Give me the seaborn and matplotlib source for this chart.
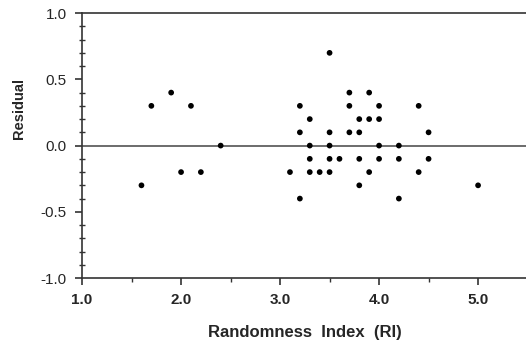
import matplotlib
matplotlib.use("Agg")
import matplotlib.pyplot as plt
import seaborn as sns
from matplotlib.ticker import MultipleLocator

# Randomness index vs. residual
ri = [1.6, 1.7, 1.9, 2.0, 2.1, 2.2, 2.4,
      3.1, 3.2, 3.2, 3.2, 3.3, 3.3, 3.3, 3.3, 3.4,
      3.5, 3.5, 3.5, 3.5, 3.5, 3.6,
      3.7, 3.7, 3.7, 3.8, 3.8, 3.8, 3.8,
      3.9, 3.9, 3.9, 4.0, 4.0, 4.0, 4.0,
      4.2, 4.2, 4.2, 4.4, 4.4, 4.5, 4.5, 5.0]
residual = [-0.3, 0.3, 0.4, -0.2, 0.3, -0.2, 0.0,
            -0.2, 0.3, 0.1, -0.4, 0.2, 0.0, -0.1, -0.2, -0.2,
            0.7, 0.1, 0.0, -0.1, -0.2, -0.1,
            0.4, 0.3, 0.1, 0.2, 0.1, -0.1, -0.3,
            0.4, 0.2, -0.2, 0.3, 0.2, 0.0, -0.1,
            0.0, -0.1, -0.4, 0.3, -0.2, 0.1, -0.1, -0.3]

xticks = [1.0, 2.0, 3.0, 4.0, 5.0]
yticks = [-1.0, -0.5, 0.0, 0.5, 1.0]

sns.set_style("ticks")
plt.rcParams['font.family'] = ['Liberation Sans', 'DejaVu Sans']

fig = plt.figure(figsize=(5.26, 3.45), dpi=100)
ax = fig.add_axes([0.156, 0.194, 0.847, 0.768])

sns.scatterplot(x=ri, y=residual, ax=ax, color="black", s=17,
                edgecolor="none", zorder=3)
ax.axhline(0, color="#444444", lw=1.1, zorder=2)

ax.set_xlim(1.0, 5.5)
ax.set_ylim(-1.0, 1.0)
ax.set_xticks(xticks)
ax.set_xticklabels([f"{v:.1f}" for v in xticks], fontweight="bold")
ax.set_yticks(yticks)
ax.set_yticklabels([f"{v:.1f}" for v in yticks])
ax.xaxis.set_minor_locator(MultipleLocator(0.5))
ax.yaxis.set_minor_locator(MultipleLocator(0.1))
ax.tick_params(axis="x", which="major", length=5, width=1.2,
               labelsize=11, color="#333333", pad=6)
ax.tick_params(axis="y", which="major", length=5, width=1.2,
               labelsize=11, color="#333333", pad=6)
ax.tick_params(axis="y", which="minor", direction="inout", length=5,
               width=1, color="#333333")
ax.tick_params(axis="x", which="minor", length=3, width=1, color="#333333")

for side in ["left", "bottom", "top"]:
    ax.spines[side].set_color("#333333")
    ax.spines[side].set_linewidth(1.2)
ax.spines["right"].set_visible(False)

ax.set_xlabel("Randomness  Index  (RI)", fontsize=12, fontweight="bold",
              labelpad=13)
ax.set_ylabel("Residual", fontsize=10.5, fontweight="bold")
ax.yaxis.set_label_coords(-0.125, 0.64)

fig.savefig("out.png", dpi=100)
